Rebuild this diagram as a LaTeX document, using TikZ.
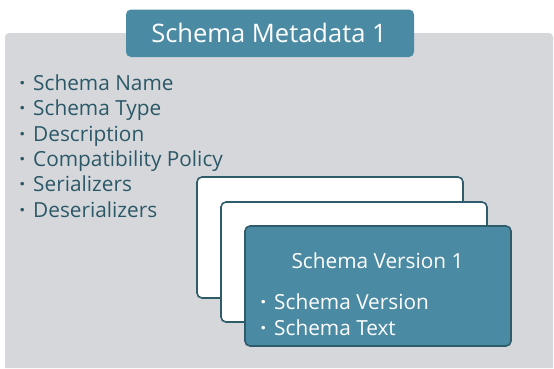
\documentclass[tikz,border=0pt]{standalone}
\usepackage{fontspec}
\setmainfont{Open Sans}
\usetikzlibrary{positioning}

\definecolor{panelgray}{HTML}{D6D7DB}
\definecolor{schemablue}{HTML}{4A8AA3}
\definecolor{schemaline}{HTML}{2F5C6B}
\definecolor{schematext}{HTML}{2B5867}

\newcommand{\dotitem}[1]{\llap{\textbf{\textperiodcentered}\hspace{8pt}}#1}

\tikzset{
  listitem/.style={anchor=base west, inner sep=0pt, text=schematext,
    font=\fontsize{20.8}{24}\selectfont},
  carditem/.style={anchor=base west, inner sep=0pt, text=white,
    font=\fontsize{20.8}{24}\selectfont},
  card/.style={draw=schemaline, line width=1.6pt, rounded corners=5pt},
}

\begin{document}
\begin{tikzpicture}[x=1pt,y=-1pt]
\useasboundingbox (0,0) rectangle (554,368);
% gray panel
\fill[panelgray] (5,368) [rounded corners=4pt] -- (5,33) -- (553,33)
  [sharp corners] -- (553,368) -- cycle;
\fill[schemablue, rounded corners=5pt] (126,9.5) rectangle (414,57);
\node[anchor=base, text=white, font=\fontsize{25.5}{30}\selectfont] (meta)
  at (269,42.3) {Schema Metadata 1};

\node[listitem] (name) at (33,90.5) {\dotitem{Schema Name}};
\node[listitem] (type) at (33,115.8) {\dotitem{Schema Type}};
\node[listitem] (desc) at (33,141.1) {\dotitem{Description}};
\node[listitem] (compat) at (33,166.4) {\dotitem{Compatibility Policy}};
\node[listitem] (ser) at (33,191.7) {\dotitem{Serializers}};
\node[listitem] (deser) at (33,217) {\dotitem{Deserializers}};

% stacked versions
\draw[card, fill=white] (197,177) rectangle (463,298);
\draw[card, fill=white] (221,202) rectangle (487,322);
\draw[card, fill=schemablue] (245,226) rectangle (511,346);
\node[anchor=base, text=white, font=\fontsize{20.8}{24}\selectfont] (ver)
  at (377.5,268.3) {Schema Version 1};
\node[carditem] (vnum) at (274,309) {\dotitem{Schema Version}};
\node[carditem] (vtext) at (274,335) {\dotitem{Schema Text}};
\end{tikzpicture}
\end{document}
